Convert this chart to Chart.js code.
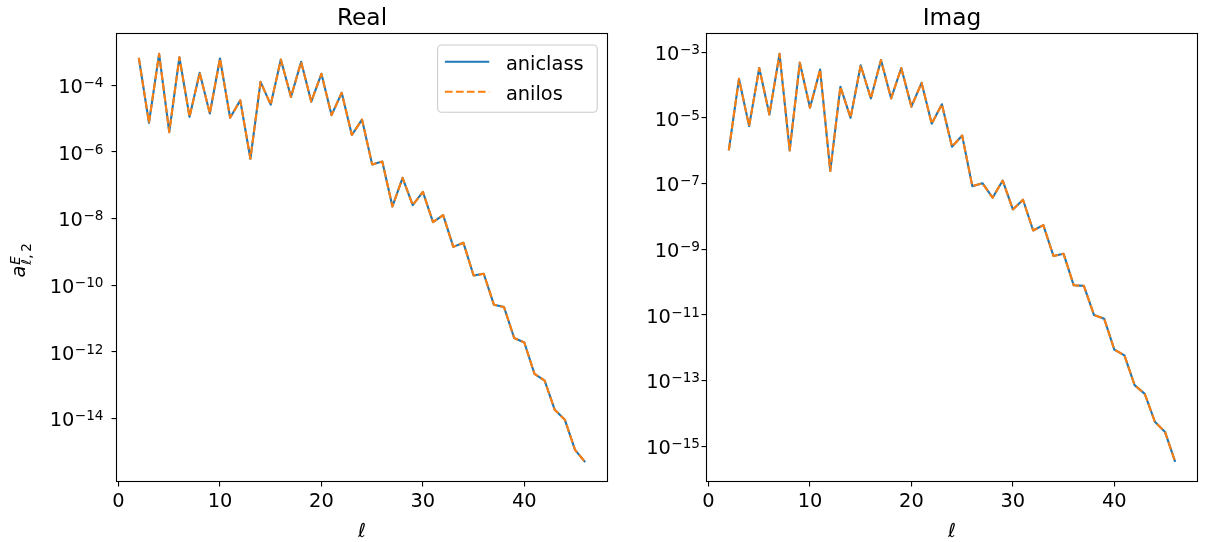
<!DOCTYPE html>
<html><head><meta charset="utf-8">
<script src="https://cdn.jsdelivr.net/npm/chart.js@4.4.1/dist/chart.umd.min.js"></script>
<style>
html,body{margin:0;padding:0;background:#fff;}
#wrap{position:relative;width:1211px;height:542px;overflow:hidden;background:#fff;}
canvas{position:absolute;top:0;}
</style></head><body>
<div id="wrap">
<canvas id="cReal" width="640" height="542" style="left:0px"></canvas>
<canvas id="cImag" width="571" height="542" style="left:640px"></canvas>
</div>
<script>
// ---------- data ----------
const ells = [2,3,4,5,6,7,8,9,10,11,12,13,14,15,16,17,18,19,20,21,22,23,24,25,26,27,28,29,30,31,32,33,34,35,36,37,38,39,40,41,42,43,44,45,46];
const realAniclass = [6.6e-4,7.4e-6,8.7e-4,3.9e-6,6.9e-4,1.12e-5,2.34e-4,1.41e-5,6.3e-4,1.05e-5,3.5e-5,6.2e-7,1.26e-4,2.6e-5,5.9e-4,4.4e-5,5.0e-4,3.2e-5,2.19e-4,1.26e-5,5.9e-5,3.2e-6,9.3e-6,4.2e-7,5.1e-7,2.3e-8,1.66e-7,2.5e-8,6.3e-8,7.8e-9,1.26e-8,1.41e-9,1.86e-9,1.95e-10,2.2e-10,2.6e-11,2.2e-11,2.6e-12,1.9e-12,2.2e-13,1.38e-13,1.82e-14,9.1e-15,1.15e-15,4.9e-16];
const realAnilos   = [6.6e-4,7.4e-6,8.7e-4,3.9e-6,6.9e-4,1.12e-5,2.34e-4,1.41e-5,6.3e-4,1.05e-5,3.5e-5,6.2e-7,1.26e-4,2.6e-5,5.9e-4,4.4e-5,5.0e-4,3.2e-5,2.19e-4,1.26e-5,5.9e-5,3.2e-6,9.3e-6,4.2e-7,5.1e-7,2.3e-8,1.66e-7,2.5e-8,6.3e-8,7.8e-9,1.26e-8,1.41e-9,1.86e-9,1.95e-10,2.2e-10,2.6e-11,2.2e-11,2.6e-12,1.9e-12,2.2e-13,1.38e-13,1.82e-14,9.1e-15,1.15e-15,4.9e-16];
const imagAniclass = [1.02e-6,1.55e-4,5.6e-6,3.3e-4,1.26e-5,8.9e-4,1.02e-6,4.8e-4,2.04e-5,2.95e-4,2.4e-7,8.9e-5,1.0e-5,4.0e-4,3.9e-5,5.8e-4,3.9e-5,3.3e-4,2.2e-5,1.17e-4,6.6e-6,2.6e-5,1.32e-6,2.9e-6,8.3e-8,1.02e-7,3.7e-8,1.23e-7,1.62e-8,3.2e-8,3.7e-9,5.4e-9,6.2e-10,7.2e-10,7.9e-11,7.6e-11,9.8e-12,7.6e-12,8.7e-13,5.8e-13,7.2e-14,3.9e-14,5.5e-15,2.7e-15,3.3e-16];
const imagAnilos   = [1.02e-6,1.55e-4,5.6e-6,3.3e-4,1.26e-5,8.9e-4,1.02e-6,4.8e-4,2.04e-5,2.95e-4,2.4e-7,8.9e-5,1.0e-5,4.0e-4,3.9e-5,5.8e-4,3.9e-5,3.3e-4,2.2e-5,1.17e-4,6.6e-6,2.6e-5,1.32e-6,2.9e-6,8.3e-8,1.02e-7,3.7e-8,1.23e-7,1.62e-8,3.2e-8,3.7e-9,5.4e-9,6.2e-10,7.2e-10,7.9e-11,7.6e-11,9.8e-12,7.6e-12,8.7e-13,5.8e-13,7.2e-14,3.9e-14,5.5e-15,2.7e-15,3.3e-16];
const seriesNames = ['aniclass', 'anilos'];
const panelTitles = ['Real', 'Imag'];
const xTicks = [0, 10, 20, 30, 40];
const realYTicks = [1e-4, 1e-6, 1e-8, 1e-10, 1e-12, 1e-14];
const imagYTicks = [1e-3, 1e-5, 1e-7, 1e-9, 1e-11, 1e-13, 1e-15];
const xTitle = 'ℓ';

// ---------- style ----------
const FONT = '"DejaVu Sans", sans-serif';
const C0 = '#1f77b4', C1 = '#ff7f0e';
const FS = 19.4;

function pts(ys) { return ells.map((l, i) => ({x: l, y: ys[i]})); }

function decor(cfg) {
  return {
    id: 'decor',
    afterDraw(chart) {
      const ctx = chart.ctx, a = chart.chartArea;
      ctx.save();
      ctx.strokeStyle = '#000'; ctx.lineWidth = 1.1;
      ctx.strokeRect(a.left, a.top, a.right - a.left, a.bottom - a.top);
      ctx.fillStyle = '#000';
      ctx.textBaseline = 'alphabetic';
      ctx.textAlign = 'center';
      ctx.font = '23.3px ' + FONT;
      ctx.fillText(cfg.title, (a.left + a.right) / 2, 24.5);
      ctx.font = 'italic ' + FS + 'px ' + FONT;
      ctx.fillText(xTitle, (a.left + a.right) / 2, 537);
      // y tick labels (mathtext-like 10^{-n})
      const ys = chart.scales.y;
      ys.ticks.forEach(t => {
        const py = ys.getPixelForValue(t.value);
        const e = Math.round(Math.log10(t.value));
        const expStr = (e < 0 ? '\u2212' : '') + Math.abs(e);
        const xr = a.left - cfg.labelGap;
        ctx.textAlign = 'right';
        ctx.font = '13.6px ' + FONT;
        const ew = ctx.measureText(expStr).width;
        ctx.fillText(expStr, xr, py + 1.8);
        ctx.font = FS + 'px ' + FONT;
        ctx.fillText('10', xr - ew - 0.5, py + 7.8);
      });
      if (cfg.yTitle) {
        ctx.save();
        ctx.translate(24.5, 277.5);
        ctx.rotate(-Math.PI / 2);
        ctx.textAlign = 'left';
        ctx.font = 'italic ' + FS + 'px ' + FONT;
        ctx.fillText('a', 0, 0);
        const aw = ctx.measureText('a').width + 0.8;
        ctx.font = 'italic 13.6px ' + FONT;
        ctx.fillText('E', aw, -4.5);
        ctx.fillText('ℓ', aw, 6.5);
        const lw = ctx.measureText('ℓ').width;
        ctx.font = '13.6px ' + FONT;
        ctx.fillText(',\u20092', aw + lw + 0.5, 6.5);
        ctx.restore();
      }
      if (cfg.legend) {
        const bw = 159.6, bh = 67.3;
        const bx = a.right - 10.3 - bw, by = a.top + 11.5;
        ctx.beginPath();
        ctx.roundRect(bx, by, bw, bh, 4);
        ctx.fillStyle = 'rgba(255,255,255,0.8)';
        ctx.fill();
        ctx.strokeStyle = '#cccccc'; ctx.lineWidth = 1.1;
        ctx.stroke();
        chart.data.datasets.forEach((ds, i) => {
          const ly = by + 16.7 + i * 30;
          ctx.beginPath();
          ctx.setLineDash(ds.borderDash || []);
          ctx.lineCap = 'butt';
          ctx.strokeStyle = ds.borderColor; ctx.lineWidth = ds.borderWidth;
          ctx.moveTo(bx + 7.3, ly); ctx.lineTo(bx + 51.6, ly);
          ctx.stroke();
          ctx.setLineDash([]);
          ctx.fillStyle = '#000';
          ctx.textAlign = 'left';
          ctx.font = FS + 'px ' + FONT;
          ctx.fillText(ds.label, bx + 68.3, by + 25.3 + i * 30);
        });
      }
      ctx.restore();
    }
  };
}

function makeChart(id, a, b, yTicks, ymin, ymax, box, cfg) {
  const canvasW = document.getElementById(id).width;
  return new Chart(document.getElementById(id), {
    type: 'line',
    data: {
      datasets: [
        {label: seriesNames[0], data: pts(a), borderColor: C0, borderWidth: 2.1, borderJoinStyle: 'round', borderCapStyle: 'butt', pointRadius: 0, tension: 0, fill: false, order: 2},
        {label: seriesNames[1], data: pts(b), borderColor: C1, borderWidth: 2.1, borderJoinStyle: 'round', borderCapStyle: 'butt', borderDash: [7.7, 3.3], pointRadius: 0, tension: 0, fill: false, order: 1}
      ]
    },
    options: {
      responsive: false,
      devicePixelRatio: 1,
      animation: false,
      events: [],
      layout: {padding: {left: 0, top: box.top, right: canvasW - box.right, bottom: 0}},
      plugins: {legend: {display: false}, title: {display: false}, tooltip: {enabled: false}},
      scales: {
        x: {
          type: 'linear', min: -0.2, max: 48.2,
          afterBuildTicks: s => { s.ticks = xTicks.map(v => ({value: v})); },
          afterFit: s => { s.height = 542 - box.bottom; },
          grid: {display: true, drawOnChartArea: false, drawTicks: true, tickLength: 5, color: '#000', lineWidth: 1.1},
          border: {display: false},
          ticks: {color: '#000', font: {family: FONT, size: FS}, padding: 4, maxRotation: 0, callback: v => String(v)}
        },
        y: {
          type: 'logarithmic', min: ymin, max: ymax,
          afterBuildTicks: s => { s.ticks = yTicks.map(v => ({value: v})); },
          afterFit: s => { s.width = box.left; },
          grid: {display: true, drawOnChartArea: false, drawTicks: true, tickLength: 5, color: '#000', lineWidth: 1.1},
          border: {display: false},
          ticks: {color: 'rgba(0,0,0,0)', font: {family: FONT, size: FS}, callback: v => String(v)}
        }
      }
    },
    plugins: [decor(cfg)]
  });
}

makeChart('cReal', realAniclass, realAnilos, realYTicks, Math.pow(10, -15.89), Math.pow(10, -2.45),
  {left: 116.5, right: 607.5, top: 33.5, bottom: 481.5},
  {title: panelTitles[0], labelGap: 13, yTitle: true, legend: true});
makeChart('cImag', imagAniclass, imagAnilos, imagYTicks, Math.pow(10, -16.08), Math.pow(10, -2.43),
  {left: 66.5, right: 557.5, top: 33.5, bottom: 481.5},
  {title: panelTitles[1], labelGap: 6.5, yTitle: false, legend: false});
</script>
</body></html>
